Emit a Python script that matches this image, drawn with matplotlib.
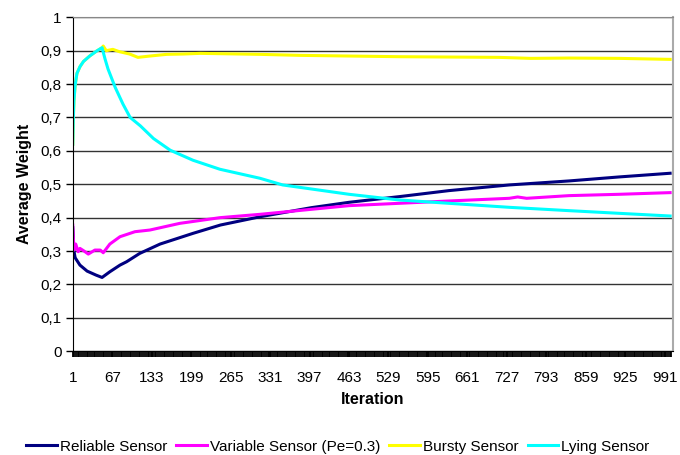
import numpy as np
import matplotlib
matplotlib.use('Agg')
import matplotlib.pyplot as plt
from matplotlib.ticker import FixedLocator, MultipleLocator

plt.rcParams['font.family'] = ['Liberation Sans', 'DejaVu Sans']

# data (iteration, average weight)
reliableIt = [1, 3, 5, 13, 25, 40, 50, 63, 80, 91, 113, 147, 202, 248, 315, 400, 463, 547, 630, 731, 831, 915, 1000]
reliableW = [0.37, 0.30, 0.28, 0.258, 0.24, 0.228, 0.221, 0.238, 0.258, 0.268, 0.293, 0.321, 0.353, 0.378,
             0.403, 0.43, 0.446, 0.463, 0.481, 0.498, 0.51, 0.522, 0.533]

variableIt = [1, 3, 6, 10, 13, 20, 27, 38, 47, 52, 63, 80, 105, 130, 180, 247, 314, 400, 463, 547, 630, 731, 745, 760, 831, 915, 1000]
variableW = [0.378, 0.303, 0.321, 0.298, 0.308, 0.300, 0.291, 0.303, 0.303, 0.295, 0.321, 0.343, 0.358, 0.363,
             0.383, 0.40, 0.41, 0.425, 0.436, 0.443, 0.450, 0.458, 0.462, 0.458, 0.466, 0.47, 0.475]

burstyIt = [1, 2, 3, 5, 8, 13, 19, 30, 41, 50, 52, 57, 68, 79, 96, 110, 130, 158, 186, 214, 314, 381, 547, 714, 767, 831, 915, 1000]
burstyW = [0.62, 0.70, 0.75, 0.797, 0.832, 0.852, 0.868, 0.885, 0.899, 0.909, 0.914, 0.90, 0.904, 0.897, 0.89, 0.88,
           0.884, 0.889, 0.89, 0.892, 0.889, 0.886, 0.882, 0.88, 0.877, 0.878, 0.877, 0.874]

lyingIt = [1, 2, 3, 5, 8, 13, 19, 30, 41, 50, 55, 60, 72, 85, 97, 114, 136, 164, 202, 247, 314, 352, 463, 547, 630, 731, 831, 915, 1000]
lyingW = [0.62, 0.70, 0.75, 0.797, 0.832, 0.852, 0.868, 0.885, 0.899, 0.909, 0.875, 0.845, 0.79, 0.74, 0.70, 0.675,
          0.637, 0.602, 0.572, 0.545, 0.518, 0.498, 0.470, 0.453, 0.443, 0.431, 0.421, 0.413, 0.405]

xLabels = list(range(1, 1000, 66))
yTicks = [0, 0.1, 0.2, 0.3, 0.4, 0.5, 0.6, 0.7, 0.8, 0.9, 1]

fig = plt.figure(figsize=(6.8, 4.55), dpi=100)
ax = fig.add_axes([0.107, 0.228, 0.882, 0.734])

ax.plot(reliableIt, reliableW, color='#000080', lw=2.2, label='Reliable Sensor')
ax.plot(variableIt, variableW, color='#FF00FF', lw=2.2, label='Variable Sensor (Pe=0.3)')
ax.plot(burstyIt, burstyW, color='#FFFF00', lw=2.2, label='Bursty Sensor')
ax.plot(lyingIt, lyingW, color='#00FFFF', lw=2.2, label='Lying Sensor')

ax.set_xlim(1, 1004)
ax.set_ylim(0, 1)
ax.set_yticks(yTicks)
ax.set_yticklabels([('%g' % v).replace('.', ',') for v in yTicks], fontsize=11)
ax.xaxis.set_major_locator(FixedLocator(xLabels))
ax.set_xticklabels([str(v) for v in xLabels], fontsize=11)
ax.xaxis.set_minor_locator(MultipleLocator(3))
ax.tick_params(axis='x', which='both', length=4, width=1.3, direction='out', pad=10)
ax.tick_params(axis='y', length=5, width=1, direction='out', pad=3)

ax.grid(axis='y', color='#333333', lw=1)
ax.set_axisbelow(True)
ax.spines['left'].set_color('black')
ax.spines['bottom'].set_color('black')
ax.spines['top'].set_color('#888888')
ax.spines['right'].set_color('#aaaaaa')
ax.spines['right'].set_linewidth(1.5)

ax.set_xlabel('Iteration', fontsize=11.5, fontweight='bold', labelpad=5)
ax.set_ylabel('Average Weight', fontsize=11.5, fontweight='bold', labelpad=6)

fig.legend(loc='center', bbox_to_anchor=(0.497, 0.018), ncol=4, frameon=False, fontsize=11,
           handlelength=2.0, columnspacing=0.6, handletextpad=0.2)

fig.savefig('out.png', dpi=100)
